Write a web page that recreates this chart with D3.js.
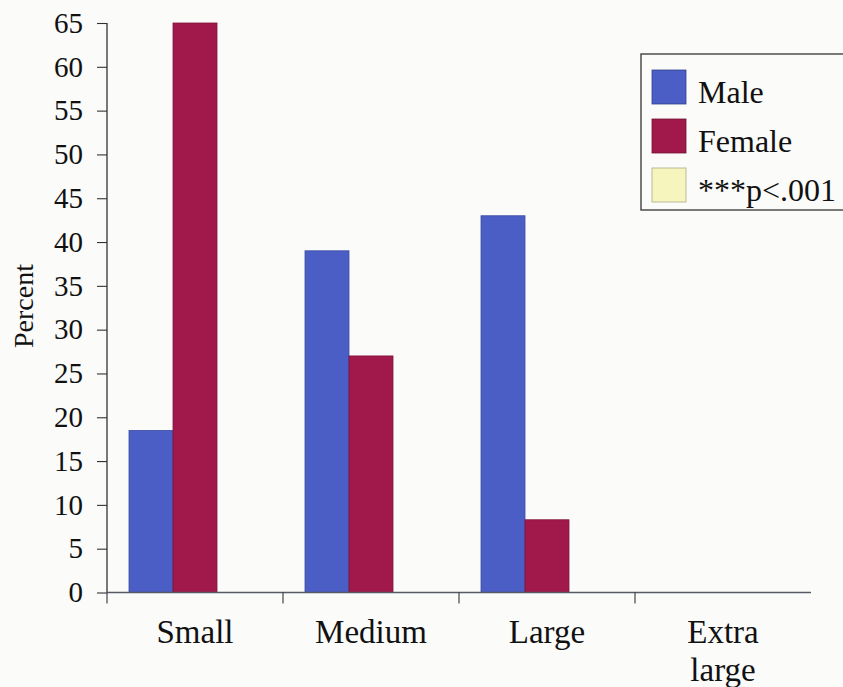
<!DOCTYPE html>
<html>
<head>
<meta charset="utf-8">
<script src="https://cdn.jsdelivr.net/npm/d3@7"></script>
<style>
  html, body { margin: 0; padding: 0; background: #fbfbfa; }
  svg { display: block; }
  svg text { font-family: "Liberation Serif", "DejaVu Serif", serif !important; fill: #111; }
</style>
</head>
<body>
<svg id="chart" width="843" height="687" font-family="Liberation Serif, serif"></svg>
<script>
// Body size distribution by sex
const categories = ["Small", "Medium", "Large", "Extra large"];
const seriesNames = ["Male", "Female"];
const maleValues = [18.5, 39, 43, 0];
const femaleValues = [65, 27, 8.3, 0];
const yTicks = [0, 5, 10, 15, 20, 25, 30, 35, 40, 45, 50, 55, 60, 65];
const legendLabels = ["Male", "Female", "***p<.001"];
const colors = ["#4a5ec6", "#a0194a", "#f6f5bd"];

const serif = "'Liberation Serif', 'DejaVu Serif', serif";
const svg = d3.select("#chart");

const x = d3.scaleBand().domain(categories).range([107, 811]).paddingInner(0).paddingOuter(0);
const y = d3.scaleLinear().domain([0, 65]).range([592.5, 23]);

const barW = 44;
const groupOffset = 22;

// Bars
const series = [maleValues, femaleValues];
series.forEach((vals, si) => {
  svg.append("g")
    .selectAll("rect")
    .data(categories.map((c, i) => ({ c, v: vals[i] })))
    .join("rect")
    .attr("x", d => x(d.c) + groupOffset + si * barW)
    .attr("y", d => y(d.v))
    .attr("width", barW)
    .attr("height", d => y(0) - y(d.v))
    .attr("fill", colors[si])
    .attr("stroke", d3.color(colors[si]).darker(0.6))
    .attr("stroke-width", 0.8);
});

// Y axis
const yAxis = d3.axisLeft(y).tickValues(yTicks).tickSize(10).tickPadding(14).tickFormat(d3.format("d"));
const yg = svg.append("g").attr("transform", "translate(107,0)").call(yAxis);
yg.attr("font-family", serif).attr("font-size", 29);
yg.select(".domain").attr("stroke", "#222").attr("stroke-width", 1.2).attr("d", `M0,${y(65)}V${y(0)}`);
yg.selectAll(".tick line").attr("stroke", "#333").attr("stroke-width", 1.1);
yg.selectAll(".tick text")
  .style("font-family", serif)
  .style("font-size", "29px")
  .attr("fill", "#111");

// X axis: line with ticks at category boundaries
const xg = svg.append("g");
xg.append("line")
  .attr("x1", x.range()[0]).attr("x2", x.range()[1])
  .attr("y1", y(0)).attr("y2", y(0))
  .attr("stroke", "#555a66").attr("stroke-width", 1.3);
xg.selectAll("line.tick")
  .data(categories)
  .join("line")
  .attr("class", "tick")
  .attr("x1", d => x(d)).attr("x2", d => x(d))
  .attr("y1", y(0)).attr("y2", y(0) + 11)
  .attr("stroke", "#333").attr("stroke-width", 1.1);

// Category labels (wrapped on spaces)
const labelG = xg.selectAll("text.cat")
  .data(categories)
  .join("text")
  .attr("class", "cat")
  .attr("text-anchor", "middle")
  .style("font-family", serif)
  .style("font-size", "33px");
labelG.each(function (d) {
  const words = d.split(" ");
  const t = d3.select(this);
  words.forEach((w, i) => {
    t.append("tspan")
      .attr("x", x(d) + 88)
      .attr("y", 643 + i * 38)
      .text(w);
  });
});

// Y axis title
svg.append("text")
  .attr("transform", "translate(33,306) rotate(-90)")
  .attr("text-anchor", "middle")
  .style("font-family", serif)
  .style("font-size", "28px")
  .text("Percent");

// Legend
const lg = svg.append("g");
lg.append("rect")
  .attr("x", 641).attr("y", 54)
  .attr("width", 220).attr("height", 156)
  .attr("fill", "none")
  .attr("stroke", "#333").attr("stroke-width", 1.3);
const rows = lg.selectAll("g.row")
  .data(legendLabels)
  .join("g")
  .attr("class", "row")
  .attr("transform", (d, i) => `translate(652,${70 + i * 49})`);
rows.append("rect")
  .attr("width", 34).attr("height", 34)
  .attr("fill", (d, i) => colors[i])
  .attr("stroke", (d, i) => d3.color(colors[i]).darker(1))
  .attr("stroke-width", 0.8);
rows.append("text")
  .attr("x", 46).attr("y", 33)
  .style("font-family", serif)
  .style("font-size", "32px")
  .text(d => d);
</script>
</body>
</html>
